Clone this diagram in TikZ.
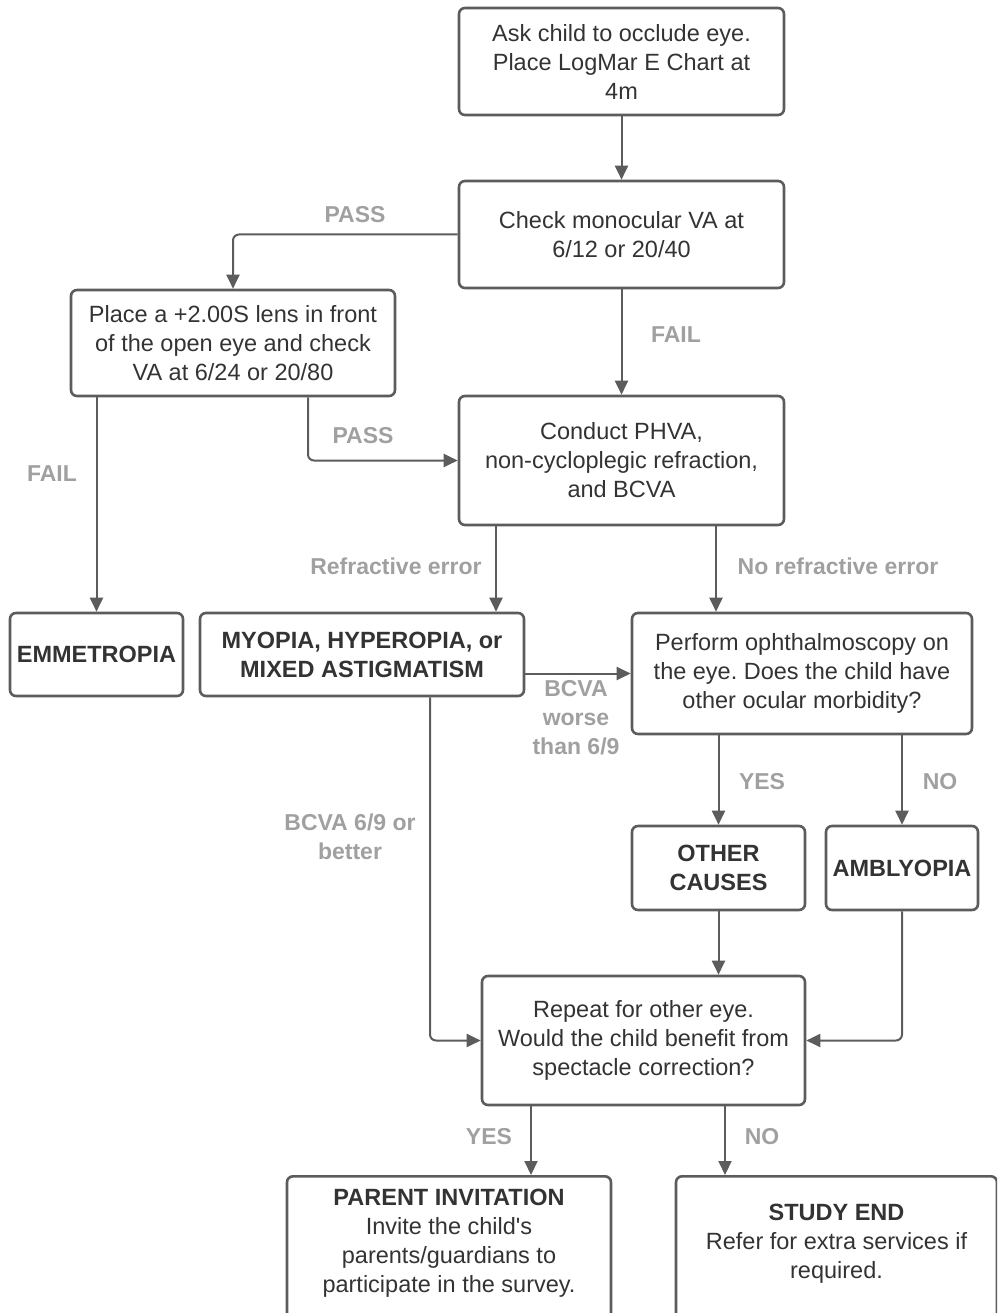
\documentclass[tikz,border=0pt]{standalone}
\usepackage{fontspec}
\setmainfont{Liberation Sans}
\frenchspacing
\usetikzlibrary{arrows.meta}
\definecolor{linegray}{HTML}{5C5C5C}
\definecolor{labelgray}{HTML}{A0A0A0}
\definecolor{textgray}{HTML}{333333}
\begin{document}
\begin{tikzpicture}[x=1pt,y=-1pt,
  box/.style={draw=linegray,line width=2.6pt,rounded corners=6pt,align=center,inner sep=0pt,text=textgray,font=\fontsize{23.5}{29}\selectfont},
  boldbox/.style={box,font=\fontsize{23.5}{29}\selectfont\bfseries},
  lbl/.style={text=labelgray,align=center,inner sep=0pt,font=\fontsize{23}{29}\selectfont\bfseries},
  arr/.style={draw=linegray,line width=2pt,rounded corners=6pt,-{Triangle[length=14pt,width=13pt]}}]
\useasboundingbox (0,0) rectangle (997,1313);
\clip (0,0) rectangle (997,1313);

\node[box,minimum width=325pt,minimum height=107pt] (ask) at (621.5,61.5) {Ask child to occlude eye.\\Place LogMar E Chart at\\4m};
\node[box,minimum width=325pt,minimum height=107pt] (check) at (621.5,234.5) {Check monocular VA at\\6/12 or 20/40};
\node[box,minimum width=324pt,minimum height=106pt] (lens) at (233,343) {Place a +2.00S lens in front\\of the open eye and check\\VA at 6/24 or 20/80};
\node[box,minimum width=325pt,minimum height=129pt] (phva) at (621.5,460.5) {Conduct PHVA,\\non-cycloplegic refraction,\\and BCVA};
\node[boldbox,minimum width=173pt,minimum height=83pt] (emme) at (96.5,654.5) {EMMETROPIA};
\node[boldbox,minimum width=324pt,minimum height=83pt] (myopia) at (362,654.5) {MYOPIA, HYPEROPIA, or\\MIXED ASTIGMATISM};
\node[box,minimum width=340pt,minimum height=121pt] (ophth) at (802,673.5) {Perform ophthalmoscopy on\\the eye. Does the child have\\other ocular morbidity?};
\node[boldbox,minimum width=173pt,minimum height=84pt] (other) at (718.5,868) {OTHER\\CAUSES};
\node[boldbox,minimum width=152pt,minimum height=84pt] (ambly) at (902,868) {AMBLYOPIA};
\node[box,minimum width=323pt,minimum height=129pt] (repeat) at (643.5,1040.5) {Repeat for other eye.\\Would the child benefit from\\spectacle correction?};
\node[box,anchor=north,minimum width=324pt,inner ysep=13pt] (parent) at (449,1175) {\textbf{PARENT INVITATION}\\Invite the child\textquotesingle s\\parents/guardians to\\participate in the survey.\\[40pt]\mbox{}};
\node[box,anchor=north,minimum width=321pt,inner ysep=28pt] (studyend) at (836.5,1175) {\textbf{STUDY END}\\Refer for extra services if\\required.\\[60pt]\mbox{}};

\draw[arr] (ask) -- (check);
\draw[arr] (check.west) -| (lens.north);
\draw[arr] (check) -- (phva);
\draw[arr] ([xshift=75pt]lens.south) |- (phva.west);
\draw[arr] (emme.north |- lens.south) -- (emme.north);
\draw[arr] ([xshift=-125.5pt]phva.south) -- ([xshift=-125.5pt]phva.south |- myopia.north);
\draw[arr] ([xshift=94.5pt]phva.south) -- ([xshift=94.5pt]phva.south |- ophth.north);
\draw[arr] (myopia.east |- ophth.west) -- (ophth.west);
\draw[arr] ([xshift=68pt]myopia.south) |- (repeat.west);
\draw[arr] (other.north |- ophth.south) -- (other.north);
\draw[arr] (ambly.north |- ophth.south) -- (ambly.north);
\draw[arr] (other.south) -- (other.south |- repeat.north);
\draw[arr] (ambly.south) |- (repeat.east);
\draw[arr] ([xshift=-112.5pt]repeat.south) -- ([xshift=-112.5pt]repeat.south |- parent.north);
\draw[arr] ([xshift=81.5pt]repeat.south) -- ([xshift=81.5pt]repeat.south |- studyend.north);

\node[lbl] (pass1) at (355,215) {PASS};
\node[lbl] (fail1) at (676,335) {FAIL};
\node[lbl] (pass2) at (363,436) {PASS};
\node[lbl] (fail2) at (52,474) {FAIL};
\node[lbl] (referr) at (396,566) {Refractive error};
\node[lbl] (noreferr) at (838,566) {No refractive error};
\node[lbl] (worse) at (576,718) {BCVA\\worse\\than 6/9};
\node[lbl] (better) at (350,837) {BCVA 6/9 or\\better};
\node[lbl] (yes1) at (762,782) {YES};
\node[lbl] (no1) at (940,782) {NO};
\node[lbl] (yes2) at (489,1137) {YES};
\node[lbl] (no2) at (762,1137) {NO};
\end{tikzpicture}
\end{document}
